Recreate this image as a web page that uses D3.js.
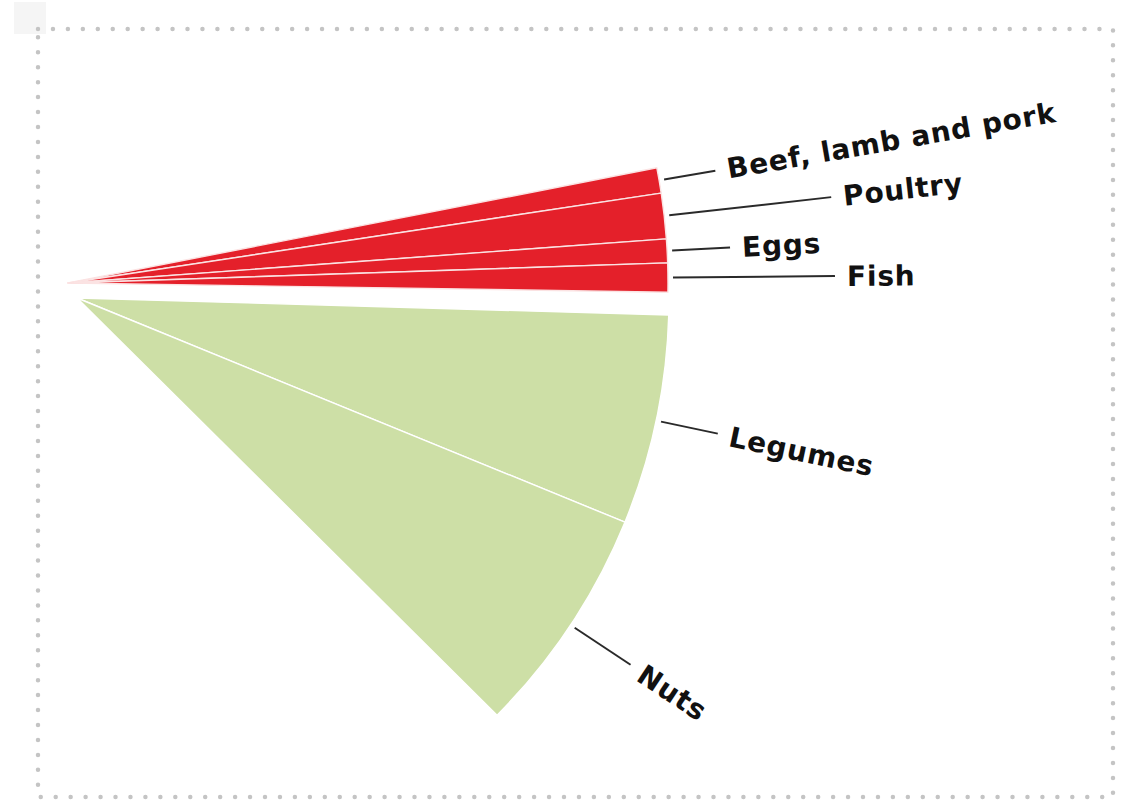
<!DOCTYPE html>
<html>
<head>
<meta charset="utf-8">
<script src="https://cdn.jsdelivr.net/npm/d3@7"></script>
<style>
  html, body { margin: 0; padding: 0; background: #fff; }
  svg { display: block; }
</style>
</head>
<body>
<svg id="chart" width="1132" height="801"></svg>
<script>
// data
var foods  = ["Beef, lamb and pork", "Poultry", "Eggs", "Fish", "Legumes", "Nuts"];
var groups = ["animal", "animal", "animal", "animal", "plant", "plant"];
var shares = [2.45, 4.4, 2.3, 2.8, 20.6, 22.55];

var svg = d3.select("#chart"),
    width = +svg.attr("width"),
    height = +svg.attr("height");

// faint corner square + dotted frame
svg.append("rect")
    .attr("x", 14).attr("y", 2).attr("width", 32).attr("height", 32)
    .attr("fill", "#f5f5f5");
svg.append("rect")
    .attr("x", 38).attr("y", 29).attr("width", 1075).attr("height", 768)
    .attr("fill", "none")
    .attr("stroke", "#c4c4c4")
    .attr("stroke-width", 4.5)
    .attr("stroke-linecap", "round")
    .attr("stroke-dasharray", "0 14.95");

// one share unit = one degree of the fan
var angle = d3.scaleLinear().domain([0, 1]).range([0, Math.PI / 180]);

// exploded groups: each has its own apex, start direction and radius
var groupLayout = {
  animal: { cx: 68, cy: 283, start: -11.07, r: 600, color: "#e4202a" },
  plant:  { cx: 77, cy: 298, start: 1.65,  r: 592, color: "#cddfa6" }
};
// leader length beyond the rim, staggered so labels don't collide
var leaderLen = [57, 168, 63, 167, 63, 72];

var rows = foods.map(function(name, i) {
  return { name: name, group: groups[i], value: shares[i] };
});

// cumulative angles within each group (radians, measured from horizontal, clockwise)
var running = {};
rows.forEach(function(d) {
  var g = groupLayout[d.group];
  if (running[d.group] === undefined) running[d.group] = angle(g.start);
  d.a0 = running[d.group];
  d.a1 = d.a0 + angle(d.value);
  running[d.group] = d.a1;
  d.mid = (d.a0 + d.a1) / 2;
});

var arc = d3.arc().innerRadius(0);

var fan = svg.append("g").attr("class", "fan");

fan.selectAll("path")
  .data(rows)
  .enter().append("path")
    .attr("transform", function(d) {
      var g = groupLayout[d.group];
      return "translate(" + g.cx + "," + g.cy + ")";
    })
    .attr("d", function(d) {
      var g = groupLayout[d.group];
      // d3.arc: 0 = 12 o'clock, so shift by a quarter turn
      return arc({ outerRadius: g.r, startAngle: d.a0 + Math.PI / 2, endAngle: d.a1 + Math.PI / 2 });
    })
    .attr("fill", function(d) { return groupLayout[d.group].color; })
    .attr("stroke", function(d) { return d.group === "animal" ? "#fbe3e3" : "#fff"; })
    .attr("stroke-width", 1.4)
    .attr("stroke-linejoin", "round");

function polar(d, r) {
  var g = groupLayout[d.group];
  return [g.cx + r * Math.cos(d.mid), g.cy + r * Math.sin(d.mid)];
}

var labels = svg.append("g").attr("class", "labels");

labels.selectAll("line")
  .data(rows)
  .enter().append("line")
    .attr("x1", function(d) { return polar(d, groupLayout[d.group].r + 5)[0]; })
    .attr("y1", function(d) { return polar(d, groupLayout[d.group].r + 5)[1]; })
    .attr("x2", function(d, i) { return polar(d, groupLayout[d.group].r + leaderLen[i])[0]; })
    .attr("y2", function(d, i) { return polar(d, groupLayout[d.group].r + leaderLen[i])[1]; })
    .attr("stroke", "#2a2a2a")
    .attr("stroke-width", 2);

labels.selectAll("text")
  .data(rows)
  .enter().append("text")
    .attr("transform", function(d, i) {
      var p = polar(d, groupLayout[d.group].r + leaderLen[i] + 12);
      return "translate(" + p[0] + "," + p[1] + ") rotate(" + (d.mid * 180 / Math.PI) + ")";
    })
    .attr("dy", "0.36em")
    .attr("font-family", "'DejaVu Sans', sans-serif")
    .attr("font-weight", "bold")
    .attr("font-size", 28)
    .attr("letter-spacing", 0.8)
    .attr("fill", "#111")
    .text(function(d) { return d.name; });
</script>
</body>
</html>
